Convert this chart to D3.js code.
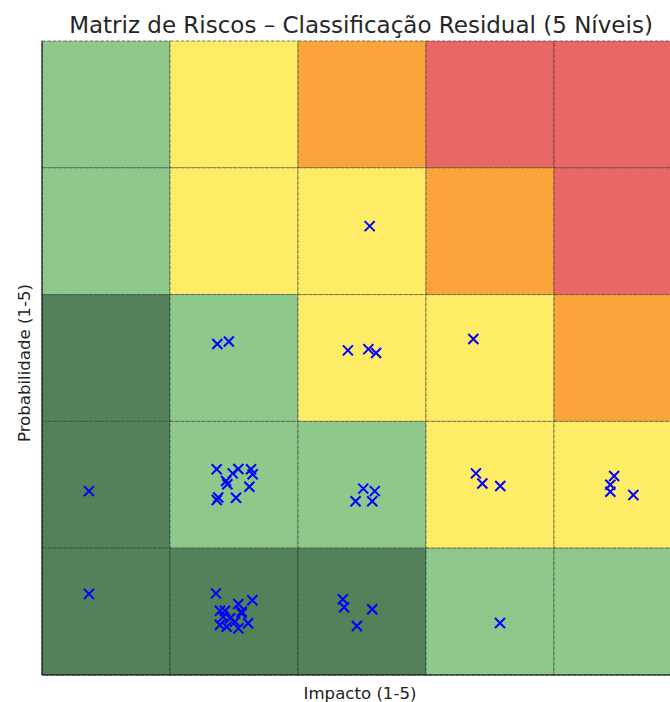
<!DOCTYPE html>
<html>
<head>
<meta charset="utf-8">
<script src="https://cdn.jsdelivr.net/npm/d3@7"></script>
<style>
  body { margin: 0; background: #fff; overflow: hidden; }
  text { font-family: "DejaVu Sans", sans-serif; }
</style>
</head>
<body>
<script>
// risk levels per cell: rows = probability 5..1, cols = impact 1..5
const levelRows = [
    ["lg", "y", "o", "r", "r"],
    ["lg", "y", "y", "o", "r"],
    ["dg", "lg", "y", "y", "o"],
    ["dg", "lg", "lg", "y", "y"],
    ["dg", "dg", "dg", "lg", "lg"]
];
const levelColors = { dg: "#52815a", lg: "#8ec88b", y: "#feeb66", o: "#f9a53c", r: "#e96866" };

// residual risks (impact, probability)
const impacts = [
    3.06,
    1.87, 1.96,
    2.89, 3.05, 3.11,
    3.87,
    1.865, 2.034, 1.99, 2.133, 2.146, 1.938, 1.948, 2.12, 1.877, 1.865, 2.016,
    3.01, 3.10, 2.95, 3.08,
    3.89, 3.94, 4.08,
    4.97, 4.94, 4.94, 5.12,
    0.867, 0.867,
    1.859, 2.034, 2.143, 1.89, 1.93, 2.06, 1.916, 1.97, 1.89, 1.943, 2.008, 2.034, 2.11, 2.06,
    2.85, 2.86, 3.08, 2.96,
    4.078
];
const probabilities = [
    4.04,
    3.11, 3.13,
    3.06, 3.07, 3.04,
    3.15,
    2.122, 2.125, 2.09, 2.122, 2.083, 2.03, 2.004, 1.985, 1.90, 1.88, 1.898,
    1.97, 1.95, 1.87, 1.87,
    2.09, 2.01, 1.99,
    2.07, 2.0, 1.945, 1.92,
    1.95, 1.14,
    1.144, 1.06, 1.09, 1.007, 1.007, 1.0, 0.96, 0.947, 0.894, 0.88, 0.92, 0.868, 0.908, 0.986,
    1.097, 1.034, 1.018, 0.886,
    0.91
];

const width = 670, height = 702;
const plotLeft = 42, plotRight = 682, plotTop = 41, plotBottom = 675;

const svg = d3.select("body").append("svg")
    .attr("width", width)
    .attr("height", height);

const x = d3.scaleLinear().domain([0.5, 5.5]).range([plotLeft, plotRight]);
const y = d3.scaleLinear().domain([0.5, 5.5]).range([plotBottom, plotTop]);

// cells
const cells = [];
levelRows.forEach((row, r) => {
    row.forEach((lvl, c) => {
        cells.push({ impact: c + 1, prob: 5 - r, lvl });
    });
});

svg.append("g").selectAll("rect")
    .data(cells)
    .enter()
    .append("rect")
    .attr("x", d => x(d.impact - 0.5))
    .attr("y", d => y(d.prob + 0.5))
    .attr("width", d => x(d.impact + 0.5) - x(d.impact - 0.5))
    .attr("height", d => y(d.prob - 0.5) - y(d.prob + 0.5))
    .attr("fill", d => levelColors[d.lvl])
    .attr("stroke", "rgba(40,40,40,0.6)")
    .attr("stroke-width", 1)
    .attr("stroke-dasharray", "3.7,1.6");

// spines
svg.append("line")
    .attr("x1", plotLeft).attr("x2", plotLeft)
    .attr("y1", plotTop).attr("y2", plotBottom)
    .attr("stroke", "#000").attr("stroke-width", 1);
svg.append("line")
    .attr("x1", plotLeft).attr("x2", plotRight)
    .attr("y1", plotBottom).attr("y2", plotBottom)
    .attr("stroke", "#000").attr("stroke-width", 1);

// markers
const s = 5;
const pts = impacts.map((v, i) => ({ ix: v, pr: probabilities[i] }));
svg.append("g").selectAll("path")
    .data(pts)
    .enter()
    .append("path")
    .attr("d", d => {
        const cx = x(d.ix), cy = y(d.pr);
        return `M${cx - s},${cy - s}L${cx + s},${cy + s}M${cx - s},${cy + s}L${cx + s},${cy - s}`;
    })
    .attr("stroke", "#0000ff")
    .attr("stroke-width", 2)
    .attr("fill", "none");

// title and labels
svg.append("text")
    .attr("x", 361).attr("y", 33)
    .attr("text-anchor", "middle")
    .attr("font-size", 23)
    .attr("fill", "#262626")
    .text("Matriz de Riscos – Classificação Residual (5 Níveis)");

svg.append("text")
    .attr("x", 360).attr("y", 699)
    .attr("text-anchor", "middle")
    .attr("font-size", 16.6)
    .attr("fill", "#222")
    .text("Impacto (1-5)");

svg.append("text")
    .attr("transform", "translate(30,363) rotate(-90)")
    .attr("text-anchor", "middle")
    .attr("font-size", 16.6)
    .attr("fill", "#222")
    .text("Probabilidade (1-5)");
</script>
</body>
</html>
